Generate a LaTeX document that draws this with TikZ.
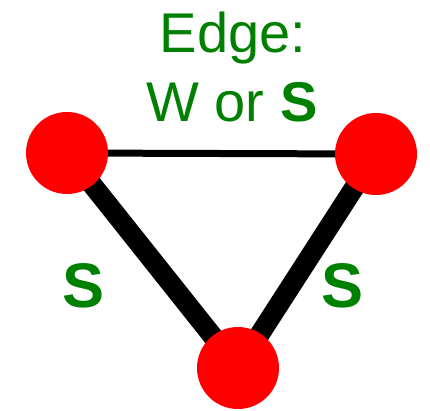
\documentclass[tikz,border=0pt]{standalone}
\usepackage{fontspec}
\setmainfont{Liberation Sans}
\usetikzlibrary{backgrounds}
\definecolor{lblgreen}{RGB}{0,128,0}
\definecolor{vred}{RGB}{255,0,0}
\tikzset{
  vertex/.style={circle,fill=vred,minimum size=82pt,inner sep=0pt},
  weak/.style={line width=7pt},
  strong/.style={line width=20pt},
  lbl/.style={text=lblgreen,font=\fontsize{56}{60}\selectfont,anchor=base,inner sep=0pt},
  elbl/.style={lbl,font=\fontsize{63}{66}\selectfont\bfseries}
}
\begin{document}
\begin{tikzpicture}[x=1pt,y=-1pt]
\useasboundingbox (0,0) rectangle (430,410);
\node[vertex] (a) at (67,153) {};
\node[vertex] (b) at (376,154) {};
\node[vertex] (c) at (238,368) {};
\begin{scope}[on background layer]
\draw[weak] (a.center) -- (b.center);
\draw[strong] (a.center) -- (c.center);
\draw[strong] (b.center) -- (c.center);
\end{scope}
\node[lbl] (t1) at (233,52) {Edge:};
\node[lbl] (t2) at (232,121) {W or \textbf{S}};
\node[elbl] (s1) at (84,307) {S};
\node[elbl] (s2) at (343,307) {S};
\end{tikzpicture}
\end{document}
